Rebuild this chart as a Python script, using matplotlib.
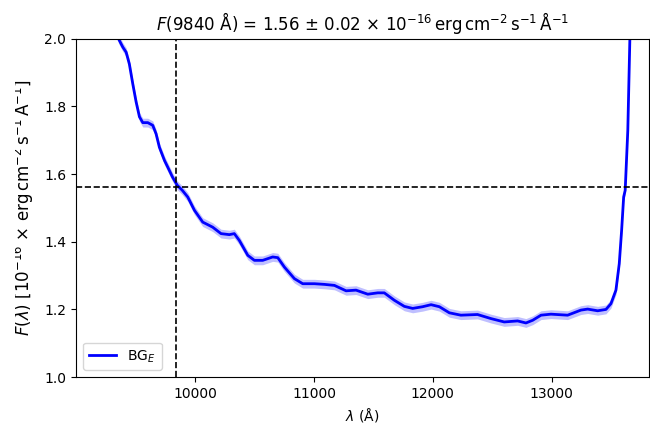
import numpy as np
import matplotlib
matplotlib.use("Agg")
import matplotlib.pyplot as plt
from matplotlib.transforms import Bbox, TransformedBbox

# spectrum (wavelength in Angstrom, flux in 1e-16 units)
wave = [9335, 9352, 9389, 9417, 9444, 9473, 9501, 9529, 9557, 9599, 9641,
        9669, 9697, 9740, 9768, 9806,
        9847, 9890, 9936, 9992, 10062, 10146, 10216, 10286, 10328, 10370, 10441,
        10497, 10567, 10651, 10694, 10750, 10834, 10904, 11002, 11087, 11171,
        11269, 11353, 11452, 11536, 11591, 11676, 11760, 11830, 11914, 11985,
        12055, 12139, 12236, 12376, 12489, 12601, 12714, 12784, 12841, 12911,
        12995, 13135, 13247, 13304, 13388, 13458, 13500, 13542, 13570, 13590,
        13607, 13620, 13642, 13659, 13670]
flux = [2.03, 2.00, 1.975, 1.960, 1.925, 1.866, 1.813, 1.769, 1.752, 1.752, 1.744,
        1.719, 1.679, 1.640, 1.620, 1.592,
        1.567, 1.552, 1.532, 1.493, 1.458, 1.443, 1.424, 1.421, 1.424, 1.404, 1.360,
        1.345, 1.345, 1.355, 1.353, 1.325, 1.291, 1.276, 1.276, 1.274, 1.271,
        1.255, 1.257, 1.245, 1.249, 1.249, 1.227, 1.209, 1.203, 1.208, 1.214,
        1.208, 1.190, 1.183, 1.185, 1.173, 1.163, 1.166, 1.160, 1.168, 1.183,
        1.186, 1.183, 1.198, 1.201, 1.196, 1.200, 1.217, 1.257, 1.335, 1.434,
        1.532, 1.552, 1.729, 1.994, 2.10]
flux_err = 0.013

lam_ref = 9840
flux_ref = 1.563

wave = np.array(wave)
flux = np.array(flux)

fig = plt.figure(figsize=(6.5, 4.3), dpi=100)
ax = fig.add_axes([0.117, 0.123, 0.881, 0.787])

ax.fill_between(wave, flux - flux_err, flux + flux_err, color="blue", alpha=0.25, lw=0)
ax.plot(wave, flux, color="blue", lw=2, label=r"BG$_E$")

ax.axvline(lam_ref, color="k", ls="--", lw=1.2)
ax.axhline(flux_ref, color="k", ls="--", lw=1.2)

ax.set_xlim(8995, 13818)
ax.set_ylim(1.0, 2.0)
ax.set_xticks([10000, 11000, 12000, 13000])

ax.set_xlabel(r"$\lambda$ (Å)", fontsize=10)
ylab = ax.set_ylabel(r"$F(\lambda)$ [10$^{-16}$ × erg$\,$cm$^{-2}\,$s$^{-1}\,$Å$^{-1}$]",
                     fontsize=12)
ax.yaxis.set_label_coords(-0.071, 0.5)
# the reference has the label cut off on its left side
ylab.set_clip_box(TransformedBbox(Bbox([[15 / 650, 0], [1, 1]]), fig.transFigure))
ylab.set_clip_on(True)

ax.set_title(r"$F$(9840 Å) = 1.56 ± 0.02 × 10$^{-16}\,$erg$\,$cm$^{-2}\,$s$^{-1}\,$Å$^{-1}$",
             fontsize=12)
ax.legend(loc="lower left", fontsize=10)

fig.savefig("out.png", dpi=100)
